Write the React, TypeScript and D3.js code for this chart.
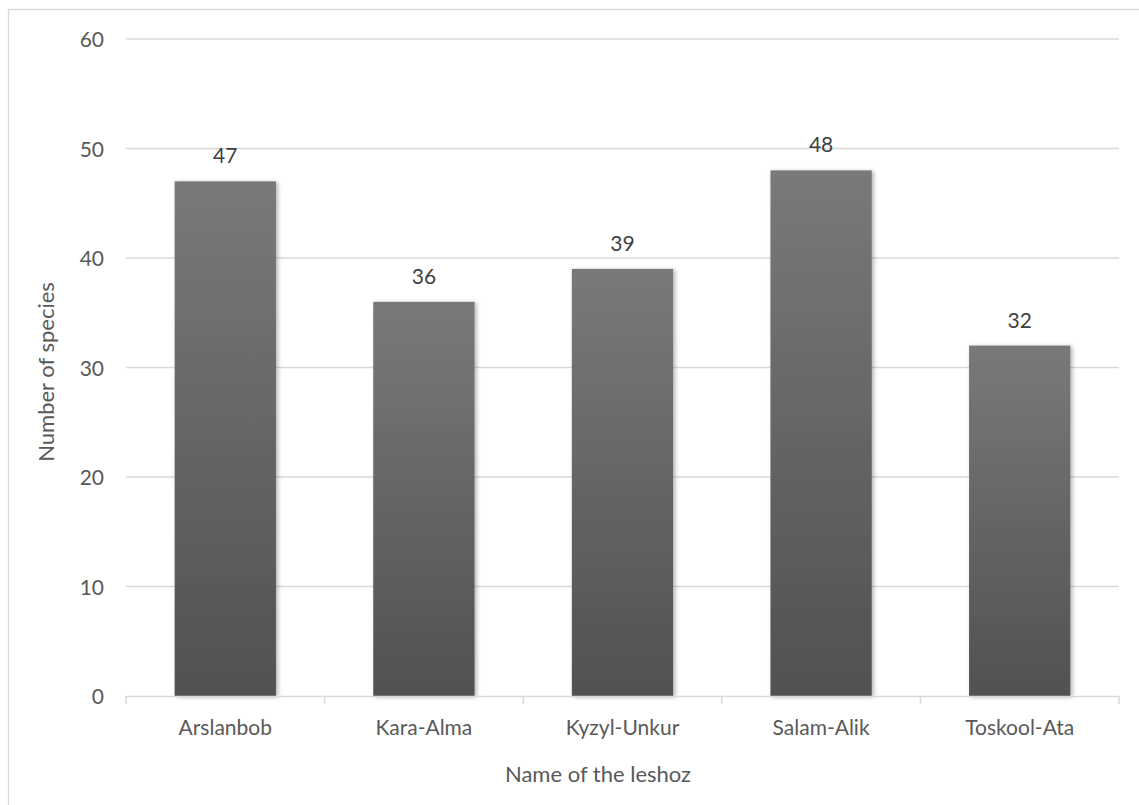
import React from "react";
import * as d3 from "d3";

const categories = ["Arslanbob", "Kara-Alma", "Kyzyl-Unkur", "Salam-Alik", "Toskool-Ata"];
const values = [47, 36, 39, 48, 32];
const yTicks = [0, 10, 20, 30, 40, 50, 60];
const xTitle = "Name of the leshoz";
const yTitle = "Number of species";

const W = 1139;
const H = 805;
const FONT = "Lato, 'Open Sans', sans-serif";
const TEXT = "#595959";
const GRID = "#d9d9d9";

export default function App() {
  const x = d3.scaleBand<string>().domain(categories).range([126, 1119]).paddingInner(0.49).paddingOuter(0.245);
  const y = d3.scaleLinear().domain([0, 60]).range([696, 39]);
  const xb = d3.scaleBand<string>().domain(categories).range([126, 1119]);

  return (
    <div style={{ position: "absolute", left: 0, top: 0 }}>
      <svg width={W} height={H} style={{ display: "block", background: "#fff" }}>
        <defs>
          <linearGradient id="barGrad" x1="0" y1="0" x2="0" y2="1">
            <stop offset="0%" stopColor="#797979" />
            <stop offset="100%" stopColor="#515151" />
          </linearGradient>
          <filter id="shadow" x="-20%" y="-10%" width="140%" height="120%">
            <feDropShadow dx="2" dy="1" stdDeviation="2" floodColor="#000" floodOpacity="0.3" />
          </filter>
        </defs>
        <rect x={8.5} y={9.5} width={1200} height={900} fill="none" stroke={GRID} strokeWidth={1.3} />
        {yTicks.filter((t) => t > 0).map((t) => (
          <line key={t} x1={126} x2={1119} y1={y(t)} y2={y(t)} stroke={GRID} strokeWidth={1.3} />
        ))}
        {yTicks.map((t) => (
          <text key={"l" + t} x={104} y={y(t) + 8} textAnchor="end" fontFamily={FONT} fontSize={21} fill={TEXT}>
            {t}
          </text>
        ))}
        {categories.map((c, i) => (
          <g key={c}>
            <rect
              x={x(c)}
              y={y(values[i])}
              width={x.bandwidth()}
              height={y(0) - y(values[i])}
              fill="url(#barGrad)"
              filter="url(#shadow)"
            />
            <text
              x={x(c)! + x.bandwidth() / 2}
              y={y(values[i]) - 18}
              textAnchor="middle"
              fontFamily={FONT}
              fontSize={21}
              fill="#404040"
            >
              {values[i]}
            </text>
            <text
              x={x(c)! + x.bandwidth() / 2}
              y={735}
              textAnchor="middle"
              fontFamily={FONT}
              fontSize={21}
              fill={TEXT}
            >
              {c}
            </text>
          </g>
        ))}
        <line x1={126} x2={1119} y1={696.5} y2={696.5} stroke={GRID} strokeWidth={1.5} />
        {[...categories.map((c) => xb(c)!), 1119].map((t, i) => (
          <line key={"t" + i} x1={t} x2={t} y1={696} y2={704} stroke={GRID} strokeWidth={1.5} />
        ))}
        <text x={598} y={782} textAnchor="middle" fontFamily={FONT} fontSize={22} fill={TEXT}>
          {xTitle}
        </text>
        <text
          transform={`translate(54,372) rotate(-90)`}
          textAnchor="middle"
          fontFamily={FONT}
          fontSize={22}
          fill={TEXT}
        >
          {yTitle}
        </text>
      </svg>
    </div>
  );
}
